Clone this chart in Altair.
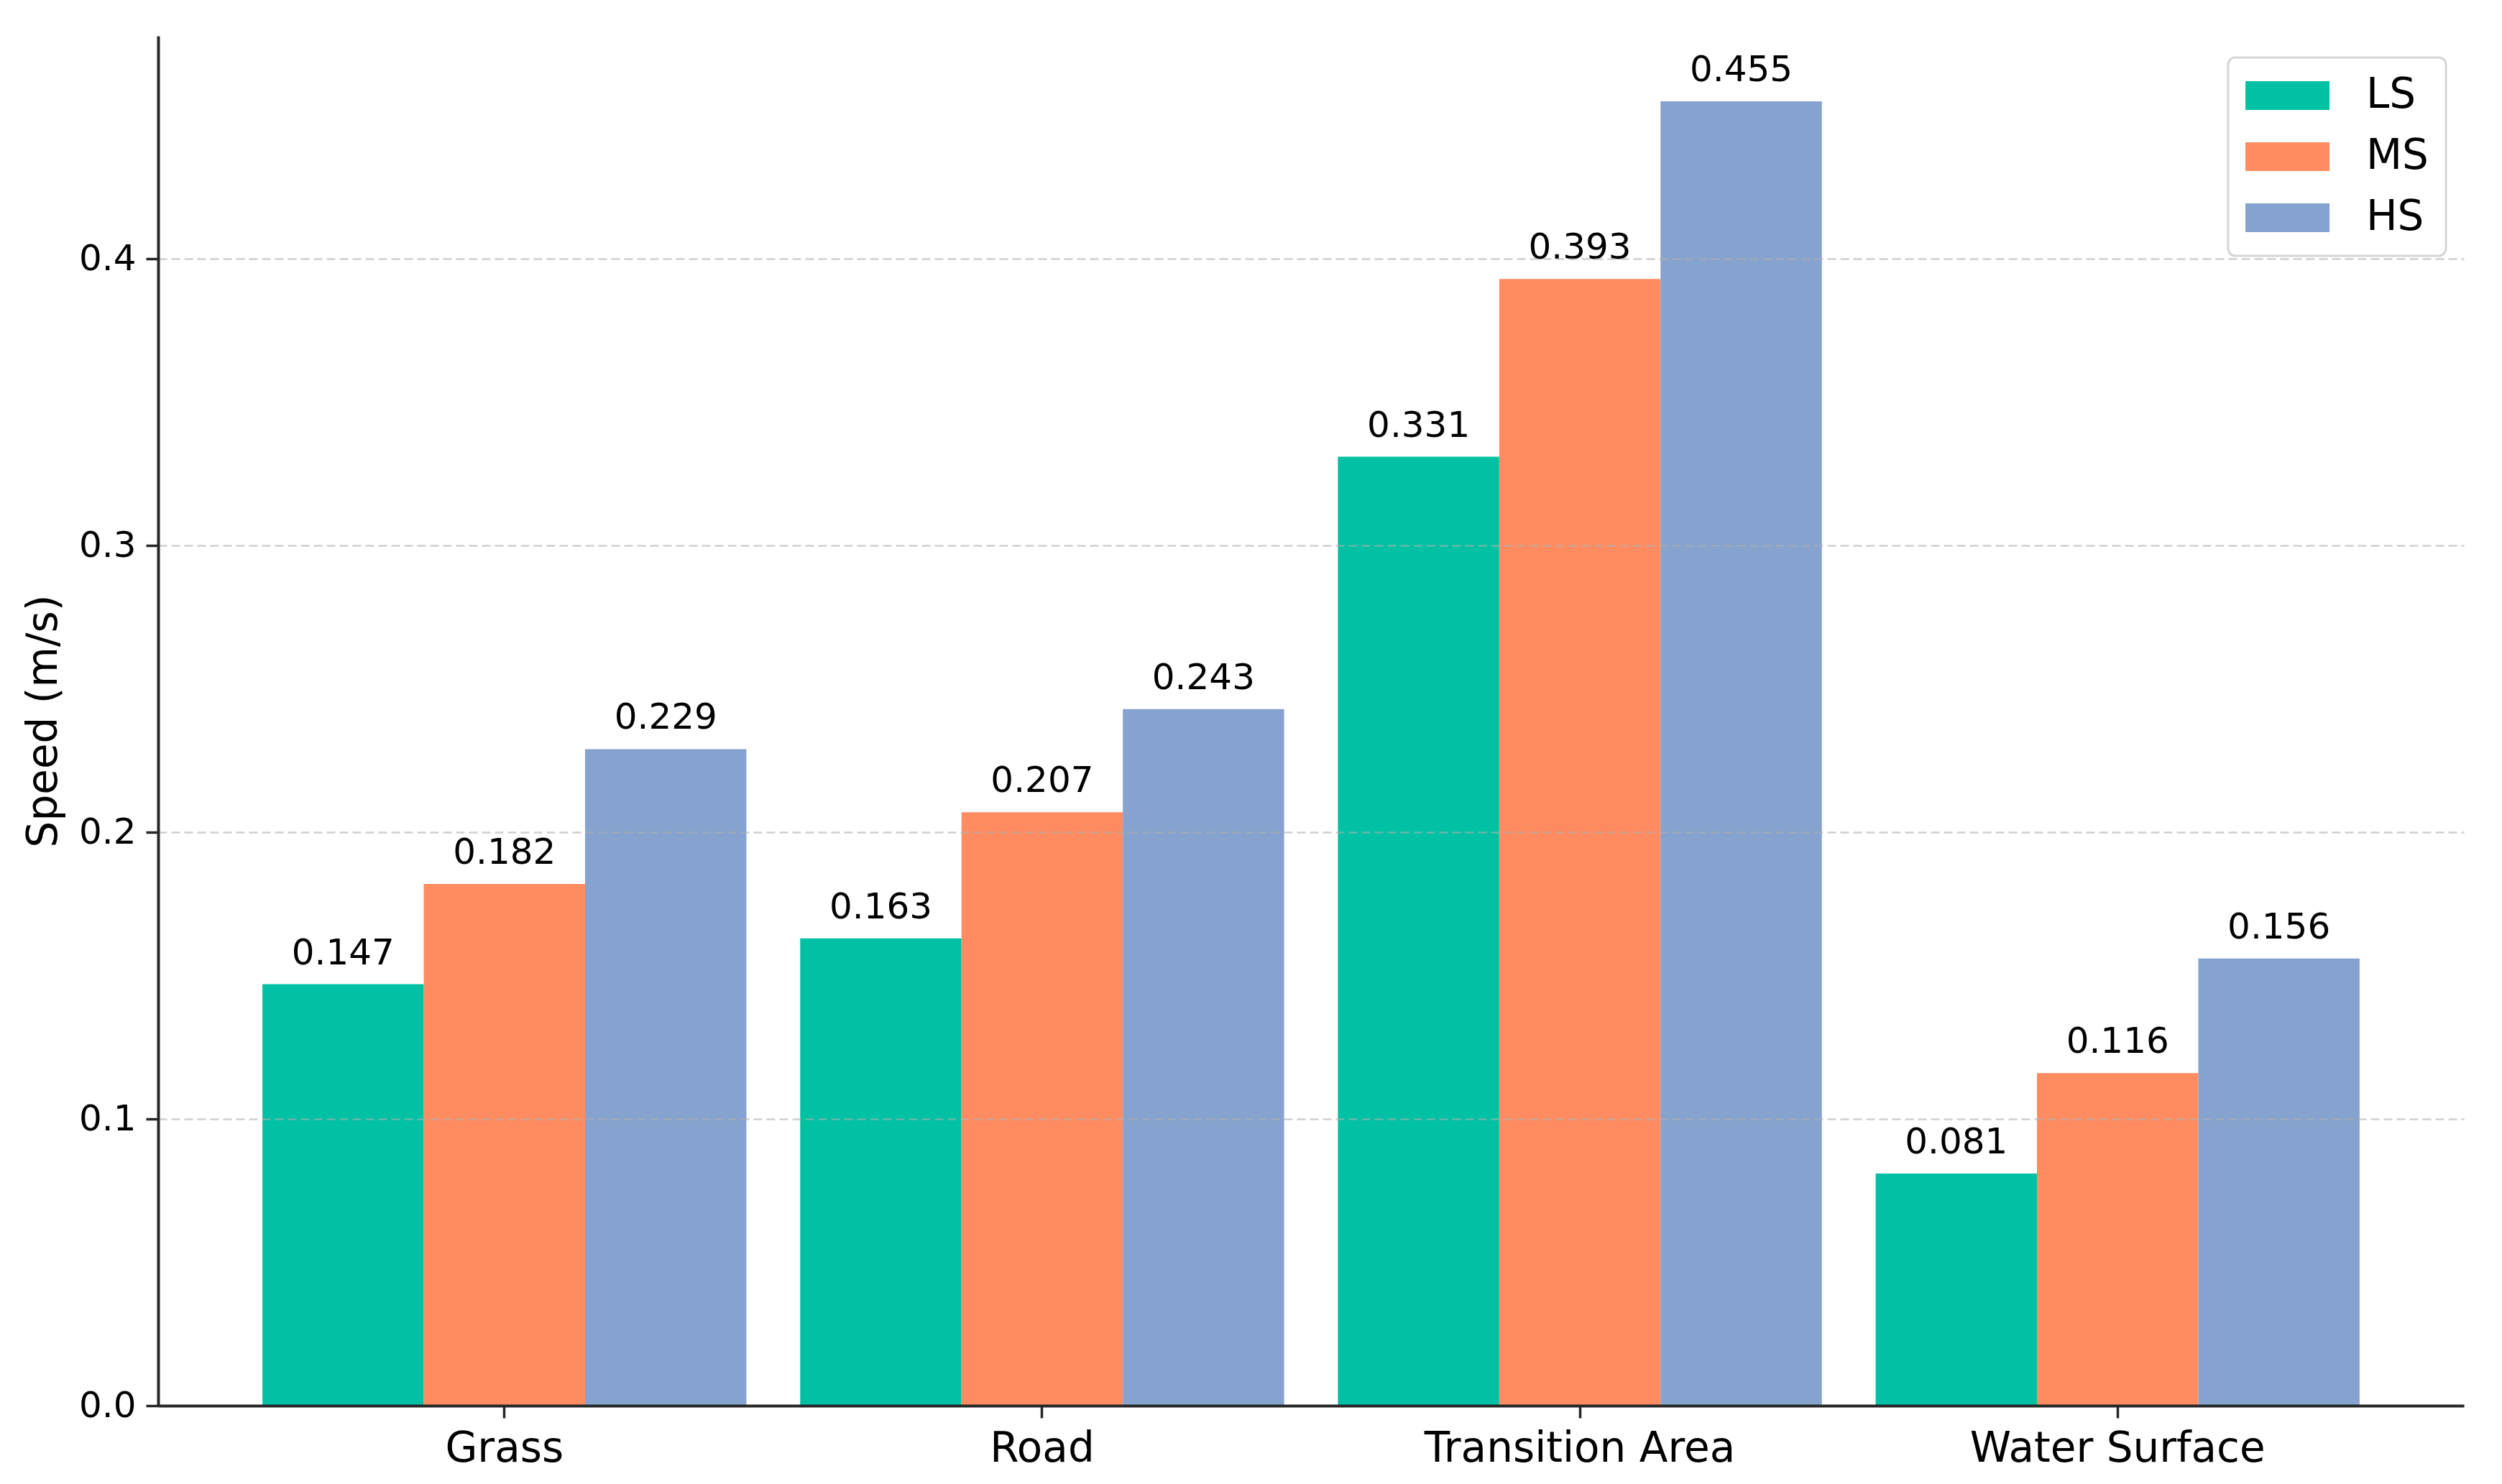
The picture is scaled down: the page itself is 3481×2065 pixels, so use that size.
import altair as alt
import pandas as pd

categories = ["Grass", "Road", "Transition Area", "Water Surface"]
series = ["LS", "MS", "HS"]
ls_values = [0.147, 0.163, 0.331, 0.081]
ms_values = [0.182, 0.207, 0.393, 0.116]
hs_values = [0.229, 0.243, 0.455, 0.156]
colors = ["#00C1A3", "#FF8C61", "#86A2CE"]
y_ticks = [0.0, 0.1, 0.2, 0.3, 0.4]

rows = []
for name, vals in zip(series, [ls_values, ms_values, hs_values]):
    for c, v in zip(categories, vals):
        rows.append({"category": c, "series": name, "value": v})
df = pd.DataFrame(rows)

FONT = "DejaVu Sans"
W, H = 3208, 1906

x_enc = alt.X("category:N", sort=categories,
              scale=alt.Scale(paddingInner=0.1, paddingOuter=0.194),
              axis=alt.Axis(title=None, labelAngle=0, labelFontSize=58, labelFont=FONT,
                            labelColor="#000000", tickSize=17, tickWidth=3.5, tickColor="#262626",
                            domainColor="#262626", domainWidth=4, labelPadding=14,
                            labelLimit=0, grid=False, zindex=2))
xo_enc = alt.XOffset("series:N", sort=series,
                     scale=alt.Scale(paddingInner=0, paddingOuter=0))
y_enc = alt.Y("value:Q",
              scale=alt.Scale(domain=[0, 0.4778], nice=False, zero=True),
              axis=alt.Axis(title="Speed (m/s)", values=y_ticks, format=".1f",
                            labelFontSize=50, labelFont=FONT, labelColor="#000000",
                            tickSize=17, tickWidth=3.5, tickColor="#262626",
                            domainColor="#262626", domainWidth=4, labelPadding=14,
                            titleFontSize=58, titleFont=FONT, titleFontWeight="normal",
                            titleColor="#000000", titleAngle=270, titleX=-142, titleY=H / 2,
                            titleBaseline="alphabetic", titleAlign="center",
                            grid=True, gridColor="#b0b0b0", gridOpacity=0.6,
                            gridDash=[12, 6], gridWidth=2.5, zindex=1))

bars = alt.Chart(df).mark_bar(strokeWidth=0).encode(
    x=x_enc,
    xOffset=xo_enc,
    y=y_enc,
    color=alt.Color("series:N", sort=series,
                    scale=alt.Scale(domain=series, range=colors),
                    legend=alt.Legend(title=None, orient="none", legendX=2880, legendY=30,
                                      symbolType="M-1.45,-1H4.4V1H-1.45Z", symbolSize=1600,
                                      symbolStrokeWidth=0, labelFontSize=58, labelFont=FONT,
                                      labelColor="#000000", labelOffset=110, padding=24,
                                      rowPadding=27, fillColor="#ffffff",
                                      strokeColor="#d5d5d5", cornerRadius=10)),
)

labels = alt.Chart(df).mark_text(baseline="alphabetic", dy=-28, fontSize=50, font=FONT,
                                 color="#000000").encode(
    x=alt.X("category:N", sort=categories),
    xOffset=alt.XOffset("series:N", sort=series),
    y=alt.Y("value:Q"),
    text=alt.Text("value:Q", format=".3f"),
)

chart = alt.layer(bars, labels).properties(
    width=W, height=H,
    autosize=alt.AutoSizeParams(type="none"),
    padding={"left": 212, "top": 42, "right": 45, "bottom": 93},
    background="white",
).configure_view(stroke=None).configure_legend(strokeWidth=3)

chart.save("out.html", embed_options={"renderer": "svg", "actions": False})
